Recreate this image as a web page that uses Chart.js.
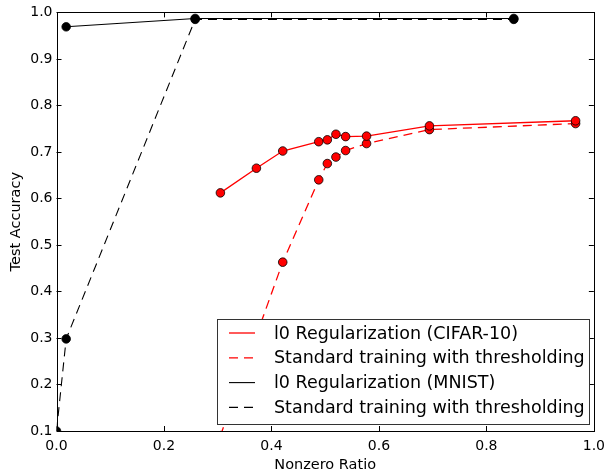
<!DOCTYPE html>
<html>
<head>
<meta charset="utf-8">
<script src="https://cdn.jsdelivr.net/npm/chart.js@4/dist/chart.umd.min.js"></script>
<style>
    html, body { margin: 0; padding: 0; background: #fff; }
    #wrap { width: 612px; height: 469px; }
</style>
</head>
<body>
<div id="wrap"><canvas id="canvas-chart" width="612" height="469"></canvas></div>
<script>
// values
const X_CIFAR_L0 = [0.305, 0.372, 0.421, 0.488, 0.504, 0.520, 0.538, 0.577, 0.694, 0.966];
const ACC_CIFAR_L0 = [0.612, 0.665, 0.702, 0.722, 0.726, 0.738, 0.733, 0.734, 0.756, 0.767];
const X_CIFAR_STD = [0.305, 0.421, 0.488, 0.504, 0.520, 0.538, 0.577, 0.694, 0.966];
const ACC_CIFAR_STD = [0.09, 0.463, 0.640, 0.675, 0.689, 0.703, 0.718, 0.748, 0.761];
const X_MNIST_L0 = [0.018, 0.258, 0.851];
const ACC_MNIST_L0 = [0.969, 0.987, 0.987];
const X_MNIST_STD = [0.0, 0.018, 0.258, 0.851];
const ACC_MNIST_STD = [0.100, 0.298, 0.985, 0.985];

const X_TICKS = [0.0, 0.2, 0.4, 0.6, 0.8, 1.0];
const Y_TICKS = [0.1, 0.2, 0.3, 0.4, 0.5, 0.6, 0.7, 0.8, 0.9, 1.0];

const LABELS = [
    "l0 Regularization (CIFAR-10)",
    "Standard training with thresholding",
    "l0 Regularization (MNIST)",
    "Standard training with thresholding",
];

const FONT = "'DejaVu Sans', sans-serif";
const DASH = [9, 6];

function toPoints(xs, ys) {
    return xs.map((x, i) => ({ x: x, y: ys[i] }));
}

function series(label, xs, ys, color, dashed) {
    return {
        label: label,
        data: toPoints(xs, ys),
        showLine: true,
        borderColor: color,
        borderWidth: color == "red" ? 1.3 : 1.1,
        borderDash: dashed ? DASH : [],
        pointRadius: 4.3,
        pointBackgroundColor: color,
        pointBorderColor: "#000",
        pointBorderWidth: 0.8,
        tension: 0,
    };
}

// ticks inside on all four sides, box frame and legend like matplotlib
const framePlugin = {
    id: "frame",
    afterDraw(chart) {
        let ctx = chart.ctx;
        let a = chart.chartArea;
        let xs = chart.scales.x;
        let ys = chart.scales.y;
        ctx.save();
        ctx.strokeStyle = "#000";
        ctx.lineWidth = 1;
        ctx.setLineDash([]);
        ctx.beginPath();
        X_TICKS.forEach(v => {
            let px = Math.round(xs.getPixelForValue(v)) + 0.5;
            ctx.moveTo(px, a.bottom);
            ctx.lineTo(px, a.bottom - 5);
            ctx.moveTo(px, a.top);
            ctx.lineTo(px, a.top + 5);
        });
        Y_TICKS.forEach(v => {
            let py = Math.round(ys.getPixelForValue(v)) + 0.5;
            ctx.moveTo(a.left, py);
            ctx.lineTo(a.left + 5, py);
            ctx.moveTo(a.right, py);
            ctx.lineTo(a.right - 5, py);
        });
        ctx.stroke();
        ctx.strokeRect(Math.round(a.left) + 0.5, Math.round(a.top) + 0.5,
            Math.round(a.right - a.left), Math.round(a.bottom - a.top));

        // legend
        let lx = 217.5, ly = 319.5, lw = 372, lh = 105;
        ctx.fillStyle = "#fff";
        ctx.fillRect(lx, ly, lw, lh);
        ctx.strokeStyle = "#333";
        ctx.strokeRect(lx, ly, lw, lh);
        ctx.font = "17.5px " + FONT;
        ctx.textBaseline = "middle";
        ctx.textAlign = "left";
        chart.data.datasets.forEach((ds, i) => {
            let cy = 333 + i * 24.8;
            ctx.strokeStyle = ds.borderColor;
            ctx.lineWidth = ds.borderWidth;
            ctx.setLineDash(ds.borderDash);
            ctx.beginPath();
            ctx.moveTo(229, cy);
            ctx.lineTo(255, cy);
            ctx.stroke();
            ctx.fillStyle = "#000";
            ctx.fillText(LABELS[i], 274, cy + 1);
        });
        ctx.restore();
    }
};

let ctx = document.getElementById("canvas-chart");
let chart = new Chart(ctx, {
    type: "scatter",
    data: {
        datasets: [
            series(LABELS[0], X_CIFAR_L0, ACC_CIFAR_L0, "red", false),
            series(LABELS[1], X_CIFAR_STD, ACC_CIFAR_STD, "red", true),
            series(LABELS[2], X_MNIST_L0, ACC_MNIST_L0, "#000", false),
            series(LABELS[3], X_MNIST_STD, ACC_MNIST_STD, "#000", true),
        ]
    },
    options: {
        responsive: false,
        animation: false,
        devicePixelRatio: 1,
        layout: { padding: { left: 0, top: 12, right: 14, bottom: 0 } },
        plugins: {
            legend: { display: false },
            tooltip: { enabled: false },
        },
        scales: {
            x: {
                type: "linear",
                min: 0, max: 1,
                afterFit: s => { s.height = 38; },
                afterBuildTicks: s => { s.ticks = X_TICKS.map(v => ({ value: v })); },
                grid: { display: false, drawTicks: false },
                border: { display: false },
                ticks: {
                    color: "#000",
                    padding: 7,
                    font: { family: FONT, size: 14 },
                    callback: v => v.toFixed(1),
                },
                title: {
                    display: true,
                    text: "Nonzero Ratio",
                    color: "#000",
                    font: { family: FONT, size: 14.5 },
                    padding: { top: 0, bottom: -5 },
                },
            },
            y: {
                type: "linear",
                min: 0.1, max: 1.0,
                afterFit: s => { s.width = 56.5; },
                afterBuildTicks: s => { s.ticks = Y_TICKS.map(v => ({ value: v })); },
                grid: { display: false, drawTicks: false },
                border: { display: false },
                ticks: {
                    color: "#000",
                    padding: 4,
                    font: { family: FONT, size: 14 },
                    callback: v => v.toFixed(1),
                },
                title: {
                    display: true,
                    text: "Test Accuracy",
                    color: "#000",
                    font: { family: FONT, size: 14.5 },
                    padding: { top: 8, bottom: 0 },
                },
            },
        },
    },
    plugins: [framePlugin],
});
</script>
</body>
</html>
